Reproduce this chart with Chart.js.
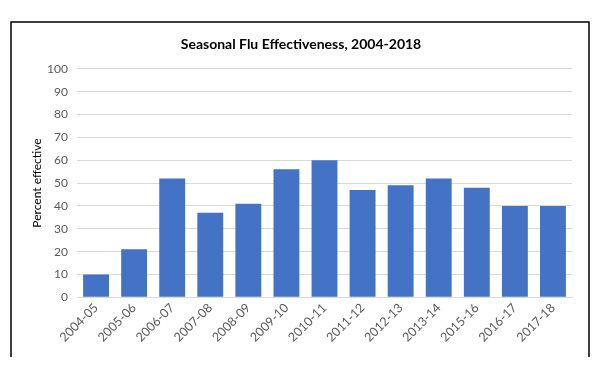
<!DOCTYPE html>
<html>
<head>
<meta charset="utf-8">
<script src="https://cdn.jsdelivr.net/npm/chart.js"></script>
<style>
  html, body { margin: 0; padding: 0; background: #fff; }
  #wrap { width: 602px; height: 372px; }
</style>
</head>
<body>
<div id="wrap"><canvas id="fluChart" width="602" height="372"></canvas></div>
<script>
// сезони та ефективність вакцини (%)
const seasons = ['2004-05', '2005-06', '2006-07', '2007-08', '2008-09', '2009-10', '2010-11',
  '2011-12', '2012-13', '2013-14', '2015-16', '2016-17', '2017-18'];
const effectiveness = [10, 21, 52, 37, 41, 56, 60, 47, 49, 52, 48, 40, 40];

// рамка як в Excel (без нижньої лінії)
const frame = {
  id: 'frame',
  beforeDraw(chart) {
    const c = chart.ctx;
    c.save();
    c.fillStyle = '#fff';
    c.fillRect(0, 0, chart.width, chart.height);
    c.strokeStyle = '#000';
    c.lineWidth = 1.5;
    c.beginPath();
    c.moveTo(11, 357);
    c.lineTo(11, 22);
    c.lineTo(589, 22);
    c.lineTo(589, 357);
    c.stroke();
    c.restore();
  }
};

const ctx = document.getElementById('fluChart').getContext('2d');
new Chart(ctx, {
  type: 'bar',
  data: {
    labels: seasons,
    datasets: [{
      label: 'Percent effective',
      data: effectiveness,
      backgroundColor: '#4472C4',
      barPercentage: 0.68,
      categoryPercentage: 1
    }]
  },
  options: {
    responsive: false,
    animation: false,
    layout: { padding: { left: 30, right: 30, top: 34, bottom: 24 } },
    plugins: {
      legend: { display: false },
      tooltip: { enabled: false },
      title: {
        display: true,
        text: 'Seasonal Flu Effectiveness, 2004-2018',
        color: '#000',
        font: { family: 'Lato', size: 14, weight: 'bold' },
        padding: { top: 2, bottom: 16 }
      }
    },
    scales: {
      y: {
        min: 0,
        max: 100,
        afterFit(scale) { scale.width = 47; },
        ticks: { stepSize: 10, color: '#595959', font: { family: 'Lato', size: 12 }, padding: 9 },
        grid: { color: '#d9d9d9', drawTicks: false },
        border: { display: false },
        title: {
          display: true,
          text: 'Percent effective',
          color: '#000',
          font: { family: 'Lato', size: 12 },
          padding: 0
        }
      },
      x: {
        ticks: { color: '#595959', font: { family: 'Lato', size: 12.5 }, maxRotation: 45, minRotation: 45, padding: 3 },
        grid: { display: false, drawTicks: false },
        border: { color: '#d9d9d9' }
      }
    }
  },
  plugins: [frame]
});
</script>
</body>
</html>
